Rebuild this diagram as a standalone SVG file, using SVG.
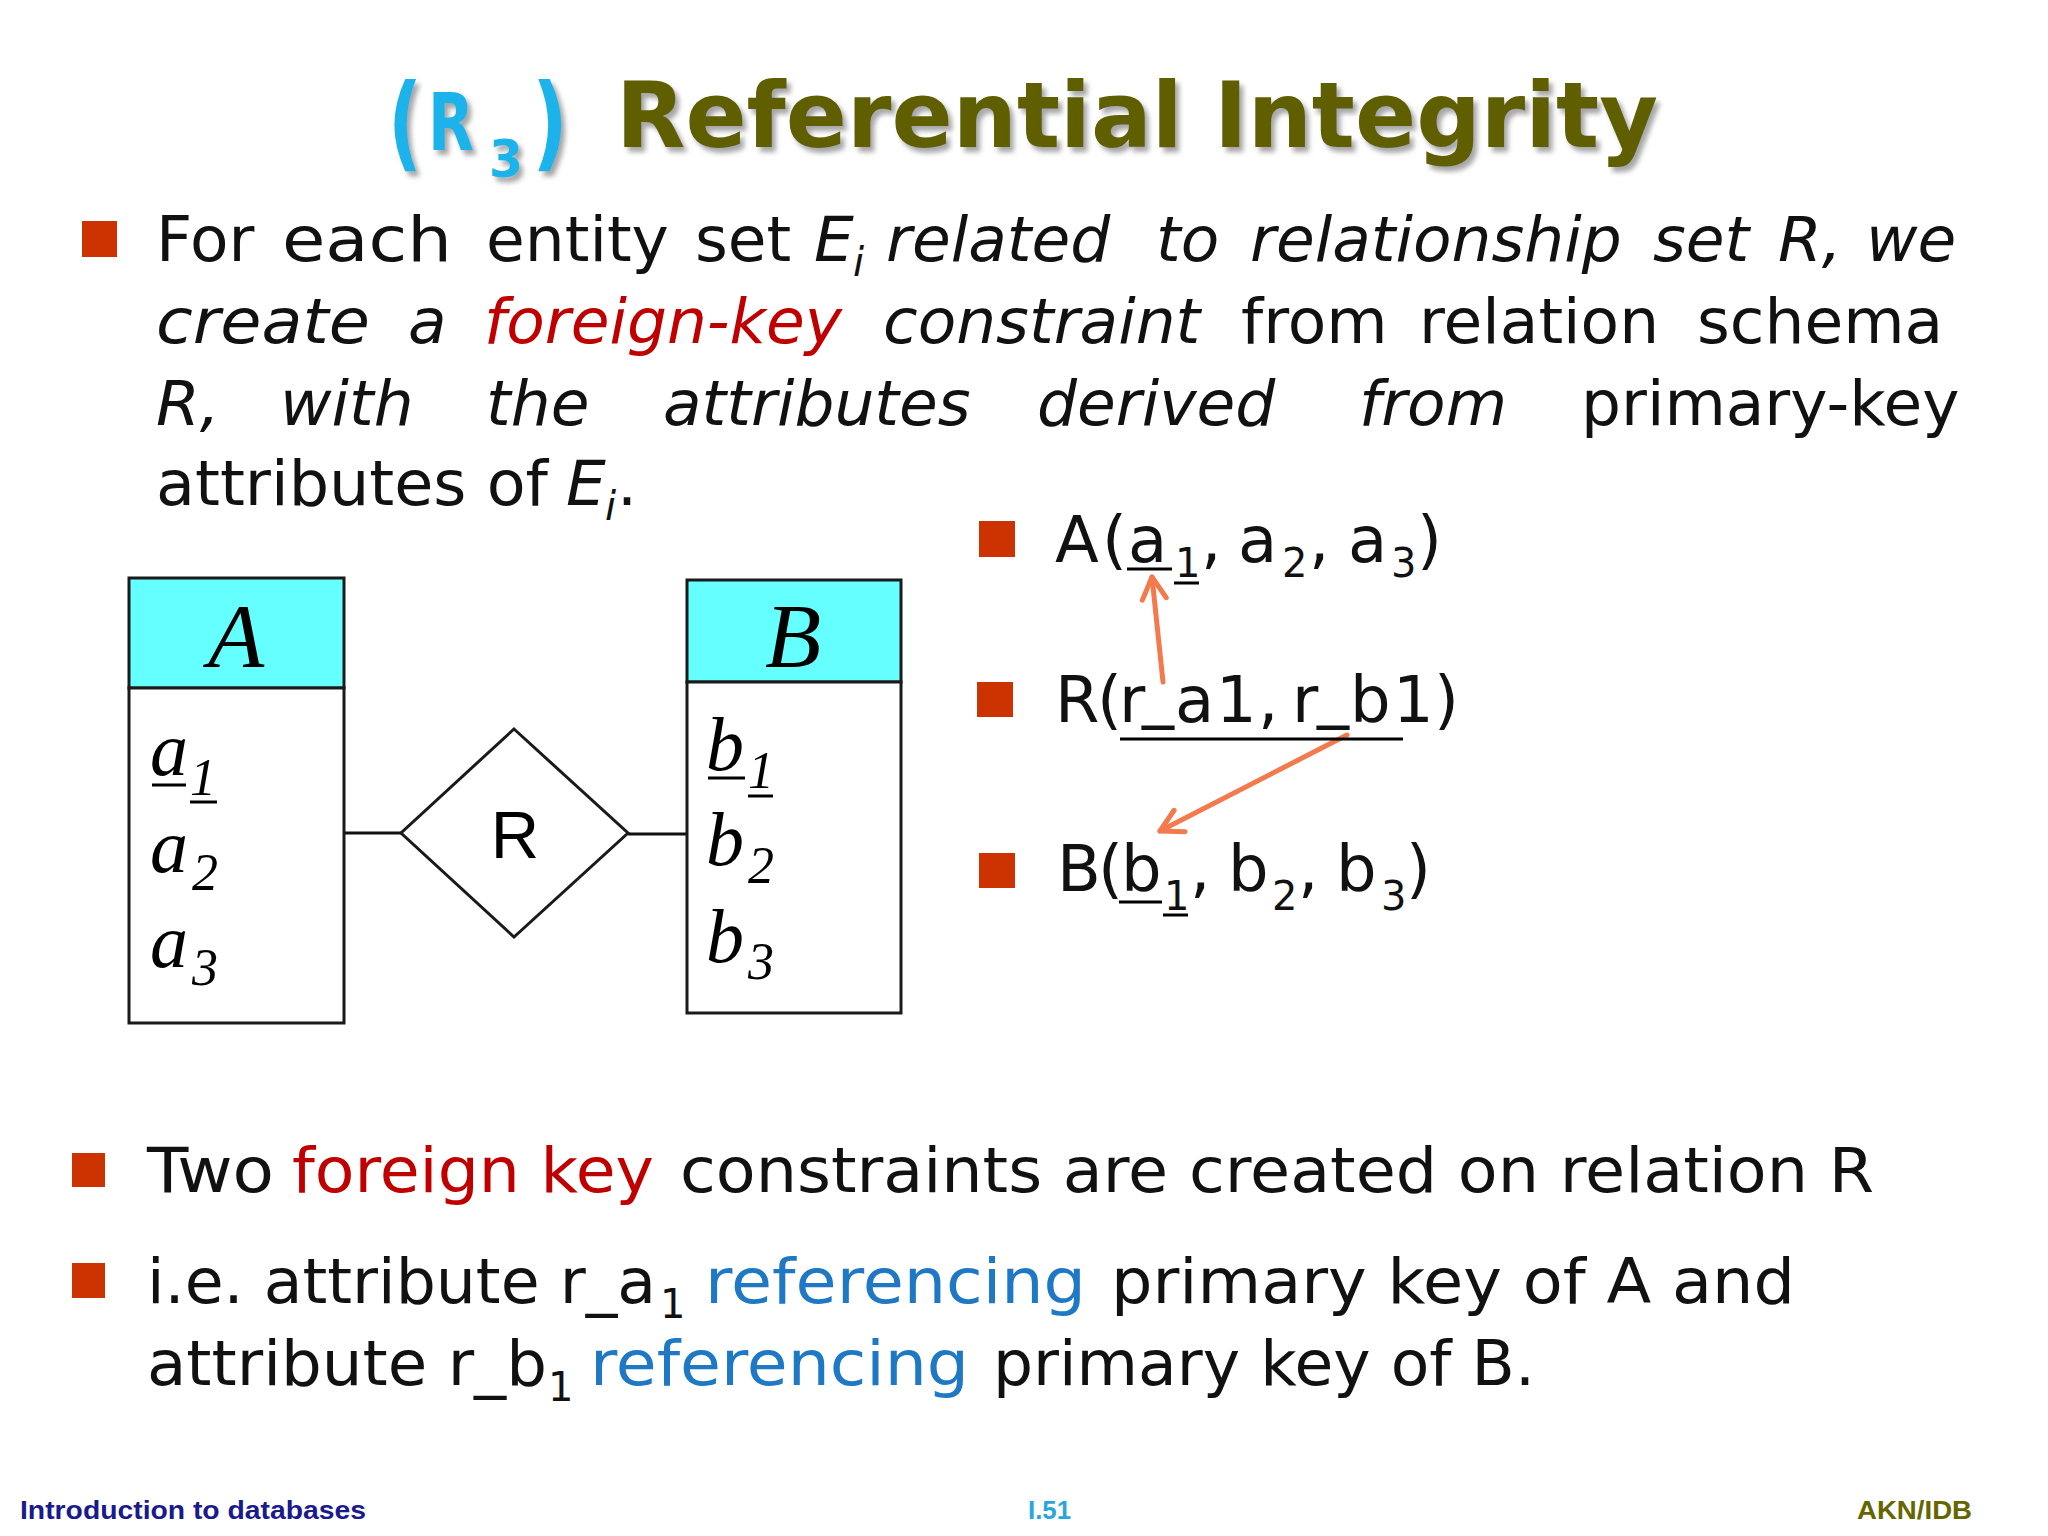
<svg xmlns="http://www.w3.org/2000/svg" width="2048" height="1536" viewBox="0 0 2048 1536">
<defs>
<filter id="shadow" x="-5%" y="-20%" width="110%" height="150%">
<feDropShadow dx="4" dy="5" stdDeviation="2.5" flood-color="#808080" flood-opacity="0.7"/>
</filter>
<marker id="vhead" markerUnits="userSpaceOnUse" markerWidth="40" markerHeight="40" refX="0" refY="0" viewBox="-30 -20 40 40" orient="auto" overflow="visible">
<path d="M -22 -12 L 0 0 L -22 12" fill="none" stroke="#f47a4e" stroke-width="5" stroke-linecap="round" stroke-linejoin="round"/>
</marker>
</defs>
<style>
.body{font-family:"DejaVu Sans","Liberation Sans",sans-serif;font-size:63px;fill:#111}
.it{font-style:italic}
.red{fill:#c00000}
.blue{fill:#1f78c4}
.sub{font-size:40px}
.rel{font-family:"DejaVu Sans","Liberation Sans",sans-serif;font-size:64px;fill:#111}
.rsub{font-size:40px}
.times{font-family:"Liberation Serif","Times New Roman",serif;font-style:italic;fill:#000}
.attr{font-size:76px}
.asub{font-size:52px}
.box{fill:#fff;stroke:#1a1a1a;stroke-width:3}
.hdr{fill:#66ffff;stroke:#1a1a1a;stroke-width:3}
.ul{stroke:#000;stroke-width:3}
.bullet{fill:#cc3300}
.conn{stroke:#111;stroke-width:3;fill:none}
.fk{stroke:#f47a4e;stroke-width:5;fill:none;stroke-linecap:round}
.foot{font-family:"Liberation Sans",Arial,sans-serif;font-weight:bold;font-size:25px}
</style>
<rect width="2048" height="1536" fill="#ffffff"/>

<g id="title" filter="url(#shadow)" font-family="'DejaVu Sans','Liberation Sans',sans-serif" font-weight="bold">
<text fill="#1fb3ea"><tspan x="388" y="158" font-size="104" textLength="34" lengthAdjust="spacingAndGlyphs">(</tspan><tspan x="428" y="150" font-size="80" textLength="46" lengthAdjust="spacingAndGlyphs">R</tspan><tspan x="489" y="177" font-size="52" textLength="34" lengthAdjust="spacingAndGlyphs">3</tspan><tspan x="532" y="158" font-size="104" textLength="36" lengthAdjust="spacingAndGlyphs">)</tspan></text>
<text x="616" y="147" font-size="90" fill="#5f5f00" textLength="1042" lengthAdjust="spacingAndGlyphs">Referential Integrity</text>
</g>

<g id="paragraph1">
<rect class="bullet" x="82" y="221" width="35" height="36"/>
<text class="body" y="261"><tspan x="156">For</tspan><tspan x="282" textLength="170" lengthAdjust="spacingAndGlyphs">each</tspan><tspan x="486">entity</tspan><tspan x="695">set</tspan><tspan x="814" class="it">E</tspan><tspan x="853" y="276" class="it sub">i</tspan><tspan x="886" y="261" class="it">related</tspan><tspan x="1156" class="it">to</tspan><tspan x="1250" class="it">relationship</tspan><tspan x="1653" class="it">set</tspan><tspan x="1778" class="it">R,</tspan><tspan x="1866" class="it">we</tspan></text>
<text class="body" y="343"><tspan x="156" class="it" textLength="214" lengthAdjust="spacingAndGlyphs">create</tspan><tspan x="408" class="it">a</tspan><tspan x="484" class="it red">foreign-key</tspan><tspan x="883" class="it">constraint</tspan><tspan x="1241">from</tspan><tspan x="1419">relation</tspan><tspan x="1697">schema</tspan></text>
<text class="body" y="425"><tspan x="156" class="it">R,</tspan><tspan x="280" class="it">with</tspan><tspan x="486" class="it">the</tspan><tspan x="663" class="it">attributes</tspan><tspan x="1037" class="it">derived</tspan><tspan x="1359" class="it">from</tspan><tspan x="1581">primary-key</tspan></text>
<text class="body" y="505"><tspan x="156" textLength="392" lengthAdjust="spacingAndGlyphs">attributes of</tspan><tspan x="566" class="it">E</tspan><tspan x="605" y="520" class="it sub">i</tspan><tspan x="617" y="505">.</tspan></text>
</g>

<g id="connectors">
<line class="conn" x1="344" y1="833" x2="401" y2="833"/>
<line class="conn" x1="628" y1="834" x2="687" y2="834"/>
<line class="fk" x1="1163" y1="682" x2="1152" y2="577" marker-end="url(#vhead)"/>
<line class="fk" x1="1347" y1="735" x2="1160" y2="831" marker-end="url(#vhead)"/>
</g>

<g id="entity-A">
<rect class="hdr" x="129" y="578" width="215" height="110"/>
<rect class="box" x="129" y="688" width="215" height="335"/>
<text class="times" x="236" y="667" font-size="92" text-anchor="middle">A</text>
<text class="times attr" x="150" y="775">a</text>
<text class="times asub" x="190" y="795">1</text>
<line class="ul" x1="152" y1="785" x2="186" y2="785"/>
<line class="ul" x1="190" y1="802" x2="217" y2="802"/>
<text class="times attr" x="150" y="872">a</text>
<text class="times asub" x="192" y="890">2</text>
<text class="times attr" x="150" y="967">a</text>
<text class="times asub" x="192" y="985">3</text>
</g>

<g id="relationship-R">
<polygon class="box" points="514,729 628,833 514,937 401,833"/>
<text x="515" y="858" font-family="'Liberation Sans',Arial,sans-serif" font-size="67" text-anchor="middle" fill="#000">R</text>
</g>

<g id="entity-B">
<rect class="hdr" x="687" y="580" width="214" height="102"/>
<rect class="box" x="687" y="682" width="214" height="331"/>
<text class="times" x="793" y="667" font-size="92" text-anchor="middle">B</text>
<text class="times attr" x="706" y="770">b</text>
<text class="times asub" x="748" y="788">1</text>
<line class="ul" x1="708" y1="778" x2="745" y2="778"/>
<line class="ul" x1="748" y1="796" x2="773" y2="796"/>
<text class="times attr" x="706" y="865">b</text>
<text class="times asub" x="748" y="883">2</text>
<text class="times attr" x="706" y="962">b</text>
<text class="times asub" x="748" y="979">3</text>
</g>

<g id="relation-A">
<rect class="bullet" x="979" y="521" width="36" height="36"/>
<text class="rel" y="562"><tspan x="1055">A</tspan><tspan x="1102">(</tspan><tspan x="1128">a</tspan><tspan x="1175" y="577" class="rsub">1</tspan><tspan x="1201" y="562">,</tspan><tspan x="1238">a</tspan><tspan x="1282" y="577" class="rsub">2</tspan><tspan x="1309" y="562">,</tspan><tspan x="1348">a</tspan><tspan x="1391" y="577" class="rsub">3</tspan><tspan x="1417" y="562">)</tspan></text>
<line class="ul" x1="1127" y1="569" x2="1172" y2="569"/>
<line class="ul" x1="1174" y1="583" x2="1199" y2="583"/>
</g>

<g id="relation-R">
<rect class="bullet" x="977" y="682" width="36" height="35"/>
<text class="rel" y="722"><tspan x="1055">R</tspan><tspan x="1097">(</tspan><tspan x="1119">r</tspan><tspan x="1142" y="715">_</tspan><tspan x="1175" y="722">a</tspan><tspan x="1216">1</tspan><tspan x="1258">,</tspan><tspan x="1292">r</tspan><tspan x="1317" y="715">_</tspan><tspan x="1350" y="722">b</tspan><tspan x="1393">1</tspan><tspan x="1434">)</tspan></text>
<line class="ul" x1="1120" y1="739" x2="1403" y2="739"/>
</g>

<g id="relation-B">
<rect class="bullet" x="979" y="853" width="36" height="35"/>
<text class="rel" y="891"><tspan x="1057">B</tspan><tspan x="1098">(</tspan><tspan x="1121">b</tspan><tspan x="1164" y="910" class="rsub">1</tspan><tspan x="1190" y="891">,</tspan><tspan x="1228">b</tspan><tspan x="1272" y="910" class="rsub">2</tspan><tspan x="1298" y="891">,</tspan><tspan x="1336">b</tspan><tspan x="1381" y="910" class="rsub">3</tspan><tspan x="1406" y="891">)</tspan></text>
<line class="ul" x1="1119" y1="902" x2="1162" y2="902"/>
<line class="ul" x1="1163" y1="915" x2="1188" y2="915"/>
</g>

<g id="paragraph2">
<rect class="bullet" x="72" y="1153" width="33" height="34"/>
<text class="body" y="1192"><tspan x="147" textLength="127" lengthAdjust="spacingAndGlyphs">Two</tspan><tspan x="292" class="red" textLength="362" lengthAdjust="spacingAndGlyphs">foreign key</tspan><tspan x="680" textLength="1194" lengthAdjust="spacingAndGlyphs">constraints are created on relation R</tspan></text>
<rect class="bullet" x="72" y="1263" width="33" height="35"/>
<text class="body" y="1303"><tspan x="147" textLength="509" lengthAdjust="spacingAndGlyphs">i.e. attribute r_a</tspan><tspan x="660" y="1318" class="sub">1</tspan><tspan x="705" y="1303" class="blue" textLength="381" lengthAdjust="spacingAndGlyphs">referencing</tspan><tspan x="1111" textLength="684" lengthAdjust="spacingAndGlyphs">primary key of A and</tspan></text>
<text class="body" y="1385"><tspan x="147" textLength="400" lengthAdjust="spacingAndGlyphs">attribute r_b</tspan><tspan x="548" y="1401" class="sub">1</tspan><tspan x="590" y="1385" class="blue" textLength="379" lengthAdjust="spacingAndGlyphs">referencing</tspan><tspan x="993" textLength="542" lengthAdjust="spacingAndGlyphs">primary key of B.</tspan></text>
</g>

<g id="footer">
<text class="foot" x="20" y="1519" fill="#1a1a8c" textLength="346" lengthAdjust="spacingAndGlyphs">Introduction to databases</text>
<text class="foot" x="1028" y="1519" fill="#2aa6df" textLength="43" lengthAdjust="spacingAndGlyphs">I.51</text>
<text class="foot" x="1857" y="1519" fill="#666600" textLength="115" lengthAdjust="spacingAndGlyphs">AKN/IDB</text>
</g>
</svg>
